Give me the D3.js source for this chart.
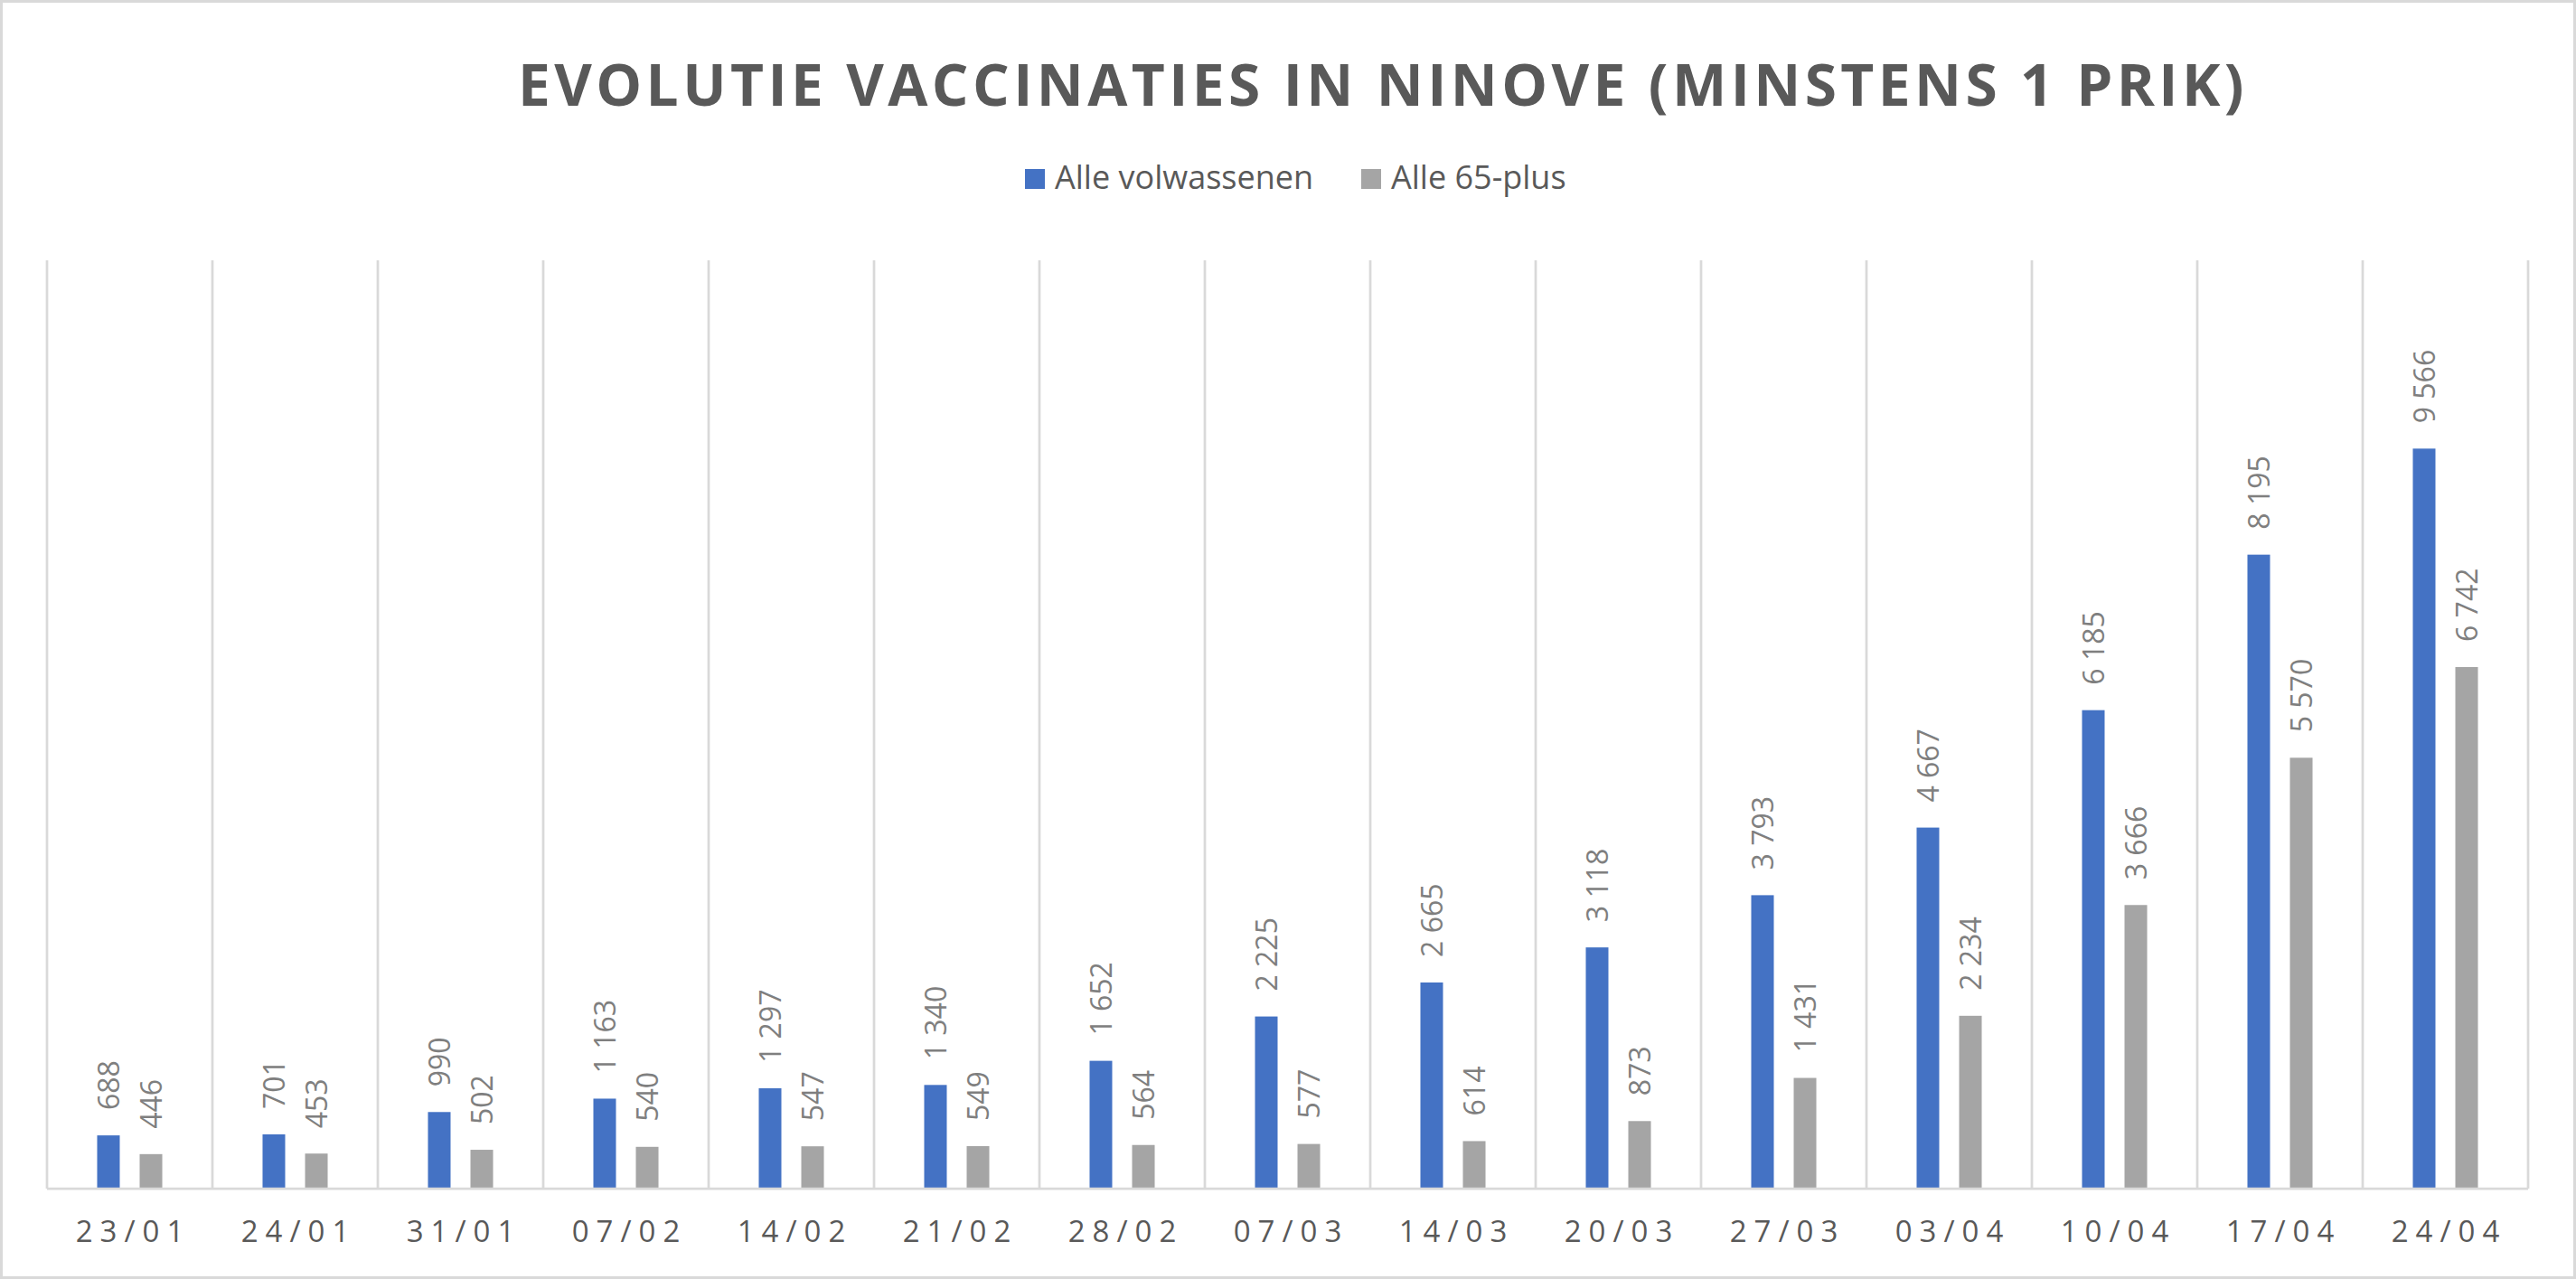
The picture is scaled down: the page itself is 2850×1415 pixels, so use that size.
<!DOCTYPE html>
<html>
<head>
<meta charset="utf-8">
<script src="https://cdn.jsdelivr.net/npm/d3@7"></script>
<style>
  html, body { margin: 0; padding: 0; background: #ffffff; }
  svg { display: block; }
  text { font-family: "Open Sans", "Noto Sans", sans-serif; }
</style>
</head>
<body>
<svg id="chart" width="2850" height="1415"></svg>
<script>
const categories = ["23/01","24/01","31/01","07/02","14/02","21/02","28/02","07/03","14/03","20/03","27/03","03/04","10/04","17/04","24/04"];
const seriesNames = ["Alle volwassenen", "Alle 65-plus"];
const volwassenen = [688, 701, 990, 1163, 1297, 1340, 1652, 2225, 2665, 3118, 3793, 4667, 6185, 8195, 9566];
const plus65 = [446, 453, 502, 540, 547, 549, 564, 577, 614, 873, 1431, 2234, 3666, 5570, 6742];
const seriesColors = ["#4472C4", "#A5A5A5"];
const titleText = "EVOLUTIE VACCINATIES IN NINOVE (MINSTENS 1 PRIK)";
const yMax = 12000;

const seriesValues = [volwassenen, plus65];
const W = 2850, H = 1415;
const plot = { left: 52, right: 2797, top: 288, bottom: 1315 };

const svg = d3.select("#chart");

// outer border
svg.append("rect")
  .attr("x", 1.5).attr("y", 1.5)
  .attr("width", W - 3).attr("height", H - 3)
  .attr("fill", "#ffffff")
  .attr("stroke", "#D9D9D9").attr("stroke-width", 3);

const x0 = d3.scaleBand().domain(categories).range([plot.left, plot.right]).padding(0);
const x1 = d3.scaleBand().domain(seriesNames).range([0, x0.bandwidth()])
  .paddingInner(0.468).paddingOuter(1.18);
const y = d3.scaleLinear().domain([0, yMax]).range([plot.bottom, plot.top]);

const fmt = d3.formatLocale({ decimal: ",", thousands: "\u00a0", grouping: [3], currency: ["", ""] }).format(",d");

// vertical gridlines at category boundaries
const bounds = categories.map(c => x0(c)).concat([x0(categories[categories.length - 1]) + x0.bandwidth()]);
svg.append("g").selectAll("line").data(bounds).join("line")
  .attr("x1", d => d).attr("x2", d => d)
  .attr("y1", plot.top).attr("y2", plot.bottom)
  .attr("stroke", "#D9D9D9").attr("stroke-width", 2.75);

// bars
const rows = categories.map((c, i) => ({ cat: c, vals: seriesNames.map((s, j) => ({ s, j, v: seriesValues[j][i] })) }));
const groups = svg.append("g").selectAll("g").data(rows).join("g")
  .attr("transform", d => `translate(${x0(d.cat)},0)`);

groups.selectAll("rect").data(d => d.vals).join("rect")
  .attr("x", d => x1(d.s))
  .attr("width", x1.bandwidth())
  .attr("y", d => y(d.v))
  .attr("height", d => y(0) - y(d.v))
  .attr("fill", d => seriesColors[d.j]);

// data labels (rotated)
groups.selectAll("text").data(d => d.vals).join("text")
  .attr("transform", d => `translate(${x1(d.s) + x1.bandwidth() / 2},${y(d.v) - 28}) rotate(-90)`)
  .attr("dy", "0.36em")
  .attr("text-anchor", "start")
  .attr("font-size", 32)
  .attr("fill", "#7F7F7F")
  .text(d => fmt(d.v));

// x axis
const xAxis = d3.axisBottom(x0).tickSize(0).tickPadding(0);
const gx = svg.append("g").attr("transform", `translate(0,${plot.bottom})`).call(xAxis);
gx.select(".domain").attr("stroke", "#D9D9D9").attr("stroke-width", 2.75)
  .attr("d", `M${plot.left},0H${plot.right}`);
gx.selectAll(".tick text")
  .attr("y", 59).attr("dy", 0)
  .attr("font-size", 33)
  .attr("font-family", "Open Sans")
  .attr("letter-spacing", 8)
  .attr("dx", 4)
  .attr("fill", "#595959");

// title
svg.append("text")
  .attr("x", 1530).attr("y", 117)
  .attr("text-anchor", "middle")
  .attr("font-size", 64)
  .attr("font-weight", "bold")
  .attr("letter-spacing", 4.4)
  .attr("fill", "#595959")
  .text(titleText);

// legend
const legendItems = [
  { name: seriesNames[0], color: seriesColors[0], sx: 1134, tx: 1167 },
  { name: seriesNames[1], color: seriesColors[1], sx: 1506, tx: 1539 }
];
const lg = svg.append("g").selectAll("g").data(legendItems).join("g");
lg.append("rect").attr("x", d => d.sx).attr("y", 187).attr("width", 22).attr("height", 22).attr("fill", d => d.color);
lg.append("text").attr("x", d => d.tx).attr("y", 209)
  .attr("font-size", 36).attr("fill", "#595959")
  .text(d => d.name);
</script>
</body>
</html>
